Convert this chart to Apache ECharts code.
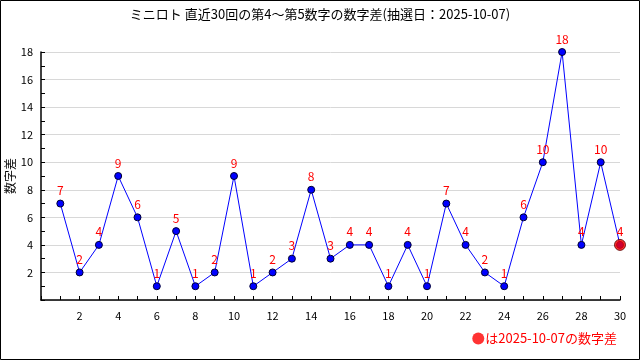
<!DOCTYPE html>
<html><head><meta charset="utf-8">
<script src="https://cdn.jsdelivr.net/npm/echarts@6/dist/echarts.min.js"></script>
<style>html,body{margin:0;padding:0;background:#fff}#c{width:640px;height:360px}</style>
</head><body><div id="c"></div>
<script>
const draws = [1,2,3,4,5,6,7,8,9,10,11,12,13,14,15,16,17,18,19,20,21,22,23,24,25,26,27,28,29,30];
const diffs = [7,2,4,9,6,1,5,1,2,9,1,2,3,8,3,4,4,1,4,1,7,4,2,1,6,10,18,4,10,4];
const titleText = 'ミニロト 直近30回の第4〜第5数字の数字差(抽選日：2025-10-07)';
const latestName = 'は2025-10-07の数字差';
const yName = '数字差';

const font = '"Noto Sans CJK JP", "DejaVu Sans", sans-serif';
const lineData = draws.map((d,i)=>[d, diffs[i]]);
const lastIdx = draws.length-1;

const chart = echarts.init(document.getElementById('c'));
chart.setOption({
  animation:false,
  backgroundColor:'#fff',
  title:{text:titleText,left:'center',top:3,textStyle:{fontSize:13,fontWeight:'normal',color:'#000',fontFamily:font}},
  grid:{left:41,right:20,top:52,bottom:60,containLabel:false,outerBoundsMode:'none'},
  legend:{data:[{name:latestName,icon:'circle',itemStyle:{borderWidth:0}}],right:18,bottom:10,itemWidth:12,itemHeight:12,itemGap:2,
    textStyle:{color:'#ff0000',fontSize:13,fontFamily:font,padding:[0,0,0,-4]}},
  xAxis:{type:'value',min:0,max:30,interval:2,
    axisLine:{lineStyle:{color:'#000',width:1.5}},
    axisTick:{inside:true,length:4,lineStyle:{color:'#000'}},
    minorTick:{show:true,splitNumber:2,length:4,lineStyle:{color:'#000'}},
    splitLine:{show:false},
    axisLabel:{color:'#000',fontSize:11,fontFamily:font,margin:10,formatter:v=>v===0?'':String(v)}},
  yAxis:{type:'value',min:0,max:18,interval:2,name:yName,nameLocation:'middle',nameRotate:90,nameGap:25,nameMoveOverlap:false,
    nameTextStyle:{color:'#000',fontSize:12,fontFamily:font},
    axisLine:{show:true,lineStyle:{color:'#000',width:1.5}},
    axisTick:{show:true,inside:true,length:4,lineStyle:{color:'#000'}},
    minorTick:{show:true,splitNumber:2,length:4,lineStyle:{color:'#000'}},
    splitLine:{show:true,lineStyle:{color:'#d8d8d8'}},
    axisLabel:{color:'#000',fontSize:11,fontFamily:font,margin:8,formatter:v=>v===0?'':String(v)}},
  series:[
    {type:'line',name:'diff',data:lineData,symbol:'circle',symbolSize:7,
      lineStyle:{color:'#0000ff',width:1},
      itemStyle:{color:'#0000ff',borderColor:'#000033',borderWidth:1},
      label:{show:true,position:'top',distance:3,color:'#ff0000',fontSize:12,fontFamily:font}},
    {type:'scatter',name:latestName,data:[lineData[lastIdx]],symbol:'circle',symbolSize:11,
      itemStyle:{color:'#ff0000',borderColor:'#550000',borderWidth:1},z:5}
  ],
  graphic:[{type:'rect',shape:{x:0.5,y:0.5,width:639,height:359},style:{fill:null,stroke:'#000',lineWidth:1},silent:true}]
});
</script></body></html>
